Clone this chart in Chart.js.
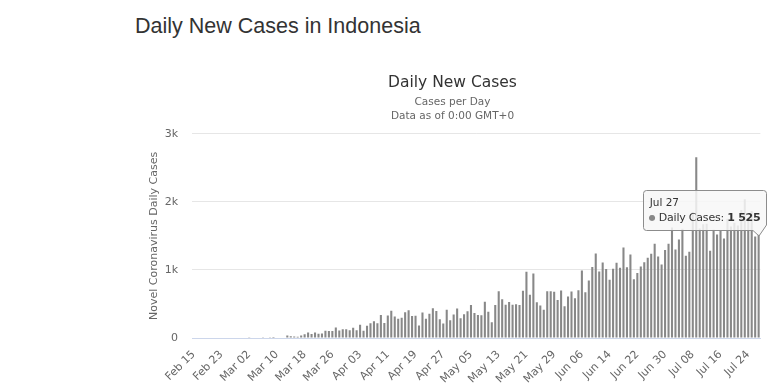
<!DOCTYPE html>
<html>
<head>
<meta charset="utf-8">
<script src="https://cdn.jsdelivr.net/npm/chart.js@4"></script>
<style>
    body { margin: 0; background: #fff; width: 780px; height: 390px; overflow: hidden; position: relative; }
    #pageTitle {
        position: absolute; left: 135px; top: 16px;
        font: 21.5px/1 "Liberation Sans", Arial, sans-serif; color: #333;
        white-space: nowrap;
    }
    #wrap { position: absolute; left: 135px; top: 60px; width: 635px; height: 330px; }
    #tip { position: absolute; width: 124px; height: 47px; pointer-events: none; display: none; }
    #tip svg { position: absolute; left: 0; top: 0; }
    #tip .t { position: absolute; left: 7px; top: 6px; font: 10.5px "DejaVu Sans", sans-serif; color: #333; white-space: nowrap; }
    #tip .b { position: absolute; left: 6px; top: 21px; font: 11px "DejaVu Sans", sans-serif; color: #333; white-space: nowrap; letter-spacing: -0.2px; }
    #tip .b b { letter-spacing: -0.3px; }
    #tip .dot { color: #888; font-size: 8px; position: relative; top: -1px; }
</style>
</head>
<body>
<div id="pageTitle">Daily New Cases in Indonesia</div>
<div id="wrap">
    <canvas id="casesChart"></canvas>
    <div id="tip">
        <svg width="124" height="47"><path d="M3.5,0.5 H120.5 Q123.5,0.5 123.5,3.5 V35 L116,46 L110,40.5 H3.5 Q0.5,40.5 0.5,37.5 V3.5 Q0.5,0.5 3.5,0.5 Z" fill="rgba(247,247,247,0.85)" stroke="#8c8c8c" stroke-width="1"/></svg>
        <div class="t"></div>
        <div class="b"><span class="dot">●</span> Daily Cases: <b></b></div>
    </div>
</div>
<script>
// months shown on the axis: [name, first day, last day]
const monthSpans = [['Feb', 15, 29], ['Mar', 1, 31], ['Apr', 1, 30], ['May', 1, 31], ['Jun', 1, 30], ['Jul', 1, 27]];

// daily new cases, Feb 15 .. Jul 27
const febCases = [0, 0, 0, 0, 0, 0, 0, 0, 0, 0, 0, 0, 0, 0, 0];
const marCases = [0, 2, 0, 0, 0, 2, 0, 2, 13, 8, 7, 0, 35, 27, 21, 17, 38, 55, 82, 60,
    81, 64, 65, 107, 104, 103, 153, 109, 130, 129, 114];
const aprCases = [149, 113, 196, 106, 181, 218, 247, 218, 337, 219, 330, 399, 316, 282, 297, 380, 407, 325, 327, 185,
    375, 283, 357, 436, 396, 275, 214, 415, 260, 347];
const mayCases = [433, 292, 349, 395, 484, 367, 338, 336, 533, 387, 233, 484, 689, 568, 490, 529, 489, 496, 486, 693,
    973, 634, 949, 526, 479, 415, 686, 687, 678, 557, 700];
const junCases = [467, 609, 684, 585, 703, 993, 672, 847, 1043, 1241, 979, 1111, 1014, 857, 1017, 1106, 1031, 1331, 1041, 1226,
    862, 954, 1051, 1113, 1178, 1240, 1385, 1198, 1082, 1293];
const julCases = [1385, 1624, 1301, 1447, 1607, 1209, 1268, 1853, 2657, 1611, 1671, 1681, 1282, 1591, 1522, 1574, 1462, 1752, 1639, 1693,
    1655, 1882, 2040, 1761, 1868, 1492, 1525];

const yTicks = [0, 1000, 2000, 3000];
const tickEvery = 8;   // one x label per 8 days

const dailyCases = [].concat(febCases, marCases, aprCases, mayCases, junCases, julCases);

const labels = [];
monthSpans.forEach(m => {
    for (let d = m[1]; d <= m[2]; d++) {
        labels.push(m[0] + ' ' + (d < 10 ? '0' + d : d));
    }
});

function fmtNum(n) {
    return String(n).replace(/\B(?=(\d{3})+(?!\d))/g, ' ');
}

const FONT = '"DejaVu Sans", sans-serif';

// 툴팁 (html)
function drawTip(context) {
    const tt = context.tooltip;
    const el = document.getElementById('tip');
    if (tt.opacity === 0 || !tt.dataPoints || !tt.dataPoints.length) {
        el.style.display = 'none';
        return;
    }
    const p = tt.dataPoints[0];
    el.querySelector('.t').textContent = p.label.replace(/ 0(\d)$/, ' $1');
    el.querySelector('.b b').textContent = fmtNum(p.raw);
    el.style.display = 'block';
    el.style.left = (tt.caretX - 116) + 'px';
    el.style.top = (tt.caretY - 44) + 'px';
}

const ctx = document.getElementById('casesChart');
const chart = new Chart(ctx, {
    type: 'bar',
    data: {
        labels: labels,
        datasets: [{
            label: 'Daily Cases',
            data: dailyCases,
            backgroundColor: '#888888',
            barPercentage: 0.6,
            categoryPercentage: 1.0
        }]
    },
    options: {
        responsive: true,
        maintainAspectRatio: false,
        animation: false,
        events: [],
        layout: { padding: { left: 8, right: 8, top: 0, bottom: 0 } },
        plugins: {
            legend: { display: false },
            title: {
                display: true,
                text: 'Daily New Cases',
                color: '#333333',
                font: { family: FONT, size: 15.5, weight: 'normal' },
                padding: { top: 14, bottom: 3 }
            },
            subtitle: {
                display: true,
                text: ['Cases per Day', 'Data as of 0:00 GMT+0'],
                color: '#666666',
                font: { family: FONT, size: 10.5, lineHeight: 1.3 },
                padding: { top: 0, bottom: 11 }
            },
            tooltip: {
                enabled: false,
                external: drawTip
            }
        },
        scales: {
            x: {
                grid: { display: false },
                border: { display: true, color: '#ccd6eb', width: 1 },
                ticks: {
                    autoSkip: false,
                    maxRotation: 45,
                    minRotation: 45,
                    color: '#666666',
                    font: { family: FONT, size: 11 },
                    padding: 2,
                    callback: function(val, i) {
                        return i % tickEvery === 0 ? labels[i] : '';
                    }
                },
                afterFit: function(scale) { scale.height = 52; }
            },
            y: {
                min: 0,
                max: 3000,
                afterBuildTicks: function(scale) {
                    scale.ticks = yTicks.map(v => ({ value: v }));
                },
                grid: { color: '#e6e6e6', drawTicks: false },
                border: { display: false },
                ticks: {
                    color: '#666666',
                    font: { family: FONT, size: 11 },
                    padding: 14,
                    callback: v => v === 0 ? '0' : (v / 1000) + 'k'
                },
                title: {
                    display: true,
                    text: 'Novel Coronavirus Daily Cases',
                    color: '#666666',
                    font: { family: FONT, size: 11 },
                    padding: { top: 5, bottom: 0 }
                },
                afterFit: function(scale) { scale.width = 49; }
            }
        }
    }
});

// Jul 27 툴팁 표시
const lastIdx = dailyCases.length - 1;
const bar = chart.getDatasetMeta(0).data[lastIdx];
chart.tooltip.setActiveElements([{ datasetIndex: 0, index: lastIdx }], { x: bar.x, y: bar.y });
chart.update();
</script>
</body>
</html>
